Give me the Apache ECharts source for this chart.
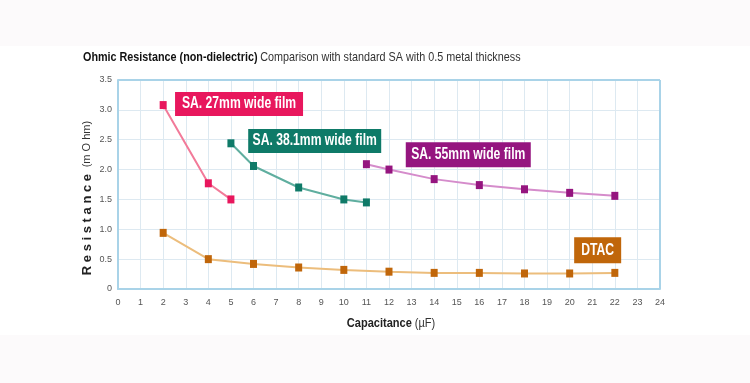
<!DOCTYPE html>
<html>
<head>
<meta charset="utf-8">
<script src="https://cdn.jsdelivr.net/npm/echarts@6/dist/echarts.min.js"></script>
<style>
html,body{margin:0;padding:0;background:#fcfafb;}
#chart{width:750px;height:383px;}
</style>
</head>
<body>
<div id="chart"></div>
<script>
// ---- data ----
const xTicks = [0,1,2,3,4,5,6,7,8,9,10,11,12,13,14,15,16,17,18,19,20,21,22,23,24];
const yTicks = [0,0.5,1.0,1.5,2.0,2.5,3.0,3.5];

const sa27X = [2, 4, 5];
const sa27Y = [3.08, 1.77, 1.50];

const sa38X = [5, 6, 8, 10, 11];
const sa38Y = [2.44, 2.06, 1.70, 1.50, 1.45];

const sa55X = [11, 12, 14, 16, 18, 20, 22];
const sa55Y = [2.09, 2.00, 1.84, 1.74, 1.67, 1.61, 1.56];

const dtacX = [2, 4, 6, 8, 10, 12, 14, 16, 18, 20, 22];
const dtacY = [0.94, 0.50, 0.42, 0.36, 0.32, 0.29, 0.27, 0.27, 0.26, 0.26, 0.27];

const seriesNames = ['SA. 27mm wide film', 'SA. 38.1mm wide film', 'SA. 55mm wide film', 'DTAC'];
// label anchor (in data units)
const labelX = [5.36, 8.71, 15.51, 21.24];
const labelY = [3.10, 2.48, 2.25, 0.65];

const titleBold = 'Ohmic Resistance (non-dielectric)';
const titleRest = 'Comparison with standard SA with 0.5 metal thickness';

// ---- build ----
const zip = (xs, ys) => xs.map((x, i) => [x, ys[i]]);
const font = "'Liberation Sans','Arial',sans-serif";

const styles = [
  {line:'#f27a99', mark:'#e8175d', box:'#e8175d', w:128, h:24},
  {line:'#5fae9f', mark:'#0f7a68', box:'#0e7a68', w:133, h:24},
  {line:'#d58ccb', mark:'#95157f', box:'#95157f', w:125, h:25},
  {line:'#ecbd7c', mark:'#c0660a', box:'#c0660a', w:47,  h:26}
];
const dataSets = [zip(sa27X, sa27Y), zip(sa38X, sa38Y), zip(sa55X, sa55Y), zip(dtacX, dtacY)];

const series = dataSets.map((d, i) => ({
  name: seriesNames[i],
  type: 'line',
  data: d,
  symbol: 'rect',
  symbolSize: [7, 8],
  lineStyle: {color: styles[i].line, width: 2},
  itemStyle: {color: styles[i].mark},
  z: 3
}));

const staticGraphics = [
  {type: 'rect', shape: {x: 0, y: 46, width: 750, height: 289}, style: {fill: '#ffffff'}, z: -10, silent: true},
  {type: 'text', x: 83, y: 57, scaleX: 0.83, style: {
    text: '{b|' + titleBold + '} {r|' + titleRest + '}',
    verticalAlign: 'middle',
    rich: {
      b: {fontFamily: font, fontWeight: 'bold', fontSize: 13, fill: '#111'},
      r: {fontFamily: font, fontSize: 13, fill: '#333'}
    }
  }},
  {type: 'text', x: 87, y: 198, rotation: Math.PI / 2, style: {
    text: '{b|R e s i s t a n c e}  {r|(m O hm)}',
    align: 'center', verticalAlign: 'middle',
    rich: {
      b: {fontFamily: font, fontWeight: 'bold', fontSize: 13, fill: '#222'},
      r: {fontFamily: font, fontSize: 11, fill: '#333'}
    }
  }},
  {type: 'text', x: 391, y: 323, scaleX: 0.85, style: {
    text: '{b|Capacitance} {r|(µF)}',
    align: 'center', verticalAlign: 'middle',
    rich: {
      b: {fontFamily: font, fontWeight: 'bold', fontSize: 13, fill: '#222'},
      r: {fontFamily: font, fontSize: 13, fill: '#333'}
    }
  }}
];

const option = {
  backgroundColor: '#fcfafb',
  animation: false,
  graphic: staticGraphics,
  grid: {left: 118, right: 90, top: 80, bottom: 94, containLabel: false, show: false},
  xAxis: {
    type: 'value', min: 0, max: 24, interval: 1,
    axisLine: {show: true, onZero: false, lineStyle: {color: '#a9d3e8', width: 2}},
    axisTick: {show: false},
    axisLabel: {color: '#555', fontSize: 9, fontFamily: font, margin: 9,
      formatter: v => xTicks.includes(v) ? String(v) : ''},
    splitLine: {show: true, lineStyle: {color: '#dde9f1', width: 1}}
  },
  yAxis: {
    type: 'value', min: 0, max: 3.5, interval: 0.5,
    axisLine: {show: true, onZero: false, lineStyle: {color: '#a9d3e8', width: 2}},
    axisTick: {show: false},
    axisLabel: {color: '#555', fontSize: 9, fontFamily: font, margin: 6,
      formatter: v => yTicks.includes(v) ? (v === 0 ? '0' : v.toFixed(1)) : ''},
    splitLine: {show: true, lineStyle: {color: '#dde9f1', width: 1}}
  },
  series: series.concat([
    {type: 'line', data: [], markLine: {silent: true, symbol: 'none',
      lineStyle: {color: '#a9d3e8', width: 2, type: 'solid'}, label: {show: false},
      data: [[{coord: [0, 3.5]}, {coord: [24, 3.5]}], [{coord: [24, 0]}, {coord: [24, 3.5]}]]}}
  ])
};

const chart = echarts.init(document.getElementById('chart'), null, {renderer: 'canvas'});
chart.setOption(option);

// boxed series labels, anchored at data coordinates
const boxes = [];
seriesNames.forEach((name, i) => {
  const p = chart.convertToPixel({gridIndex: 0}, [labelX[i], labelY[i]]);
  const s = styles[i];
  boxes.push({type: 'rect', z: 20, silent: true,
    shape: {x: p[0] - s.w / 2, y: p[1] - s.h / 2, width: s.w, height: s.h},
    style: {fill: s.box}});
  boxes.push({type: 'text', z: 21, silent: true, x: p[0], y: p[1], scaleX: 0.76,
    style: {text: name, align: 'center', verticalAlign: 'middle',
      fontFamily: font, fontWeight: 'bold', fontSize: 16, fill: '#ffffff'}});
});
option.graphic = staticGraphics.concat(boxes);
chart.setOption(option, true);
</script>
</body>
</html>
